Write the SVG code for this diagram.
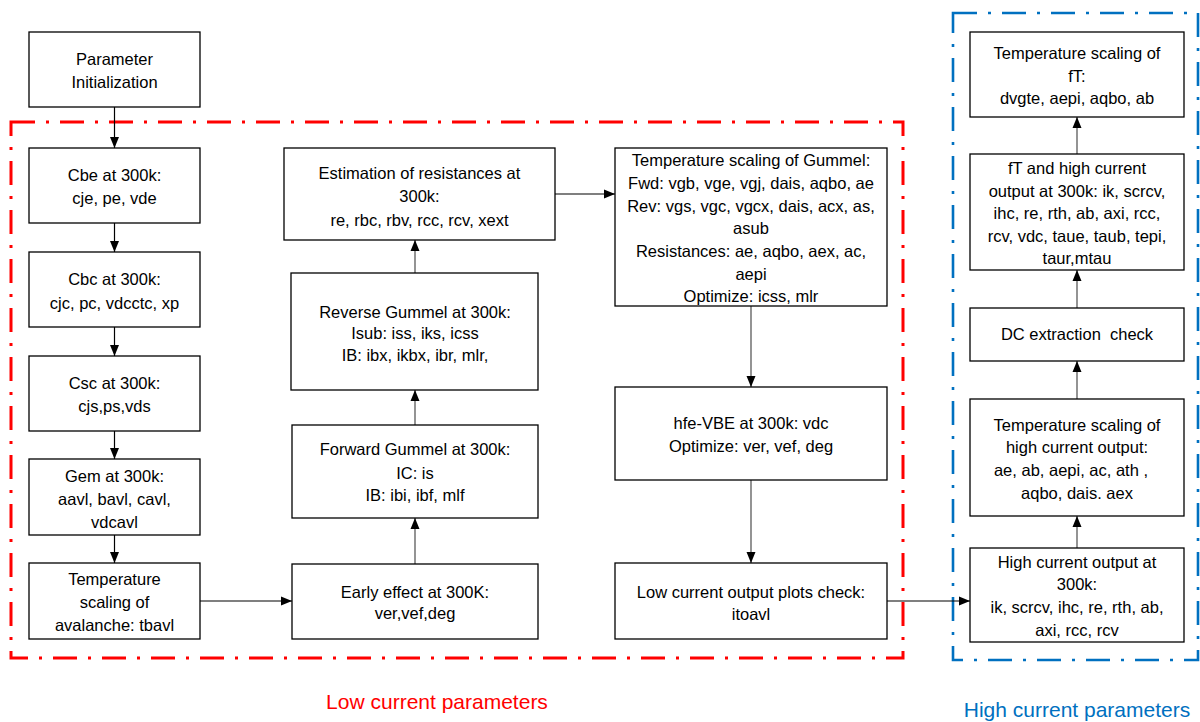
<svg xmlns="http://www.w3.org/2000/svg" width="1200" height="722" viewBox="0 0 1200 722">
<style>
.box{fill:#fff;stroke:#000;stroke-width:1.3}
.t{font-family:"Liberation Sans",Arial,sans-serif;font-size:16.5px;fill:#000;text-anchor:middle}
.c{fill:none;stroke:#000;stroke-width:1.2}
.g{fill:none;stroke:#666;stroke-width:1.4}
.lbl{font-family:"Liberation Sans",Arial,sans-serif;font-size:21px;text-anchor:middle}
</style>
<defs>
<marker id="ah" markerUnits="userSpaceOnUse" markerWidth="12" markerHeight="12" viewBox="0 0 12 12" refX="11" refY="6" orient="auto">
<path d="M0,1.5 L11,6 L0,10.5 Z" fill="#000"/>
</marker>
</defs>
<rect width="1200" height="722" fill="#fff"/>
<g id="groups">
<rect x="11" y="122" width="892" height="536" fill="none" stroke="#FF0000" stroke-width="3" stroke-dasharray="24 11 3 11"/>
<rect x="953" y="13" width="245" height="647" fill="none" stroke="#0070C0" stroke-width="2.6" stroke-dasharray="24 11 3 11"/>
<text class="lbl" x="437" y="709" fill="#FF0000">Low current parameters</text>
<text class="lbl" x="1077" y="717" fill="#0070C0">High current parameters</text>
</g>
<g id="connectors">
<line class="c" x1="114.5" y1="107" x2="114.5" y2="148" marker-end="url(#ah)"/>
<line class="c" x1="114.5" y1="223" x2="114.5" y2="252" marker-end="url(#ah)"/>
<line class="c" x1="114.5" y1="327" x2="114.5" y2="356" marker-end="url(#ah)"/>
<line class="c" x1="114.5" y1="431" x2="114.5" y2="459" marker-end="url(#ah)"/>
<line class="c" x1="114.5" y1="535" x2="114.5" y2="563" marker-end="url(#ah)"/>
<line class="c" x1="200" y1="601" x2="292" y2="601" marker-end="url(#ah)"/>
<line class="g" x1="415" y1="564" x2="415" y2="518" marker-end="url(#ah)"/>
<line class="g" x1="415" y1="425" x2="415" y2="390" marker-end="url(#ah)"/>
<line class="g" x1="415" y1="273" x2="415" y2="240" marker-end="url(#ah)"/>
<line class="c" x1="555" y1="194" x2="615" y2="194" marker-end="url(#ah)"/>
<line class="g" x1="751" y1="306" x2="751" y2="387" marker-end="url(#ah)"/>
<line class="g" x1="751" y1="480" x2="751" y2="563" marker-end="url(#ah)"/>
<line class="c" x1="887" y1="601" x2="970" y2="601" marker-end="url(#ah)"/>
<line class="g" x1="1077" y1="548" x2="1077" y2="516" marker-end="url(#ah)"/>
<line class="g" x1="1077" y1="399" x2="1077" y2="361" marker-end="url(#ah)"/>
<line class="g" x1="1077" y1="308" x2="1077" y2="270" marker-end="url(#ah)"/>
<line class="g" x1="1077" y1="154" x2="1077" y2="117" marker-end="url(#ah)"/>
</g>
<g id="param-init">
<rect class="box" x="29" y="32" width="171" height="75"/>
<text class="t" x="114.5" y="65">Parameter</text>
<text class="t" x="114.5" y="87.5">Initialization</text>
</g>
<g id="cbe">
<rect class="box" x="29" y="148" width="171" height="75"/>
<text class="t" x="114.5" y="181">Cbe at 300k:</text>
<text class="t" x="114.5" y="204">cje, pe, vde</text>
</g>
<g id="cbc">
<rect class="box" x="29" y="252" width="171" height="75"/>
<text class="t" x="114.5" y="285">Cbc at 300k:</text>
<text class="t" x="114.5" y="308.5">cjc, pc, vdcctc, xp</text>
</g>
<g id="csc">
<rect class="box" x="29" y="356" width="171" height="75"/>
<text class="t" x="114.5" y="389">Csc at 300k:</text>
<text class="t" x="114.5" y="411.5">cjs,ps,vds</text>
</g>
<g id="gem">
<rect class="box" x="29" y="459" width="171" height="76"/>
<text class="t" x="114.5" y="482">Gem at 300k:</text>
<text class="t" x="114.5" y="505">aavl, bavl, cavl,</text>
<text class="t" x="114.5" y="527.5">vdcavl</text>
</g>
<g id="temp-avalanche">
<rect class="box" x="29" y="563" width="171" height="76"/>
<text class="t" x="114.5" y="585">Temperature</text>
<text class="t" x="114.5" y="608">scaling of</text>
<text class="t" x="114.5" y="631">avalanche: tbavl</text>
</g>
<g id="early-effect">
<rect class="box" x="292" y="564" width="246" height="75"/>
<text class="t" x="415" y="597.5">Early effect at 300K:</text>
<text class="t" x="415" y="619">ver,vef,deg</text>
</g>
<g id="forward-gummel">
<rect class="box" x="292" y="425" width="246" height="93"/>
<text class="t" x="415" y="455">Forward Gummel at 300k:</text>
<text class="t" x="415" y="478.5">IC: is</text>
<text class="t" x="415" y="501">IB: ibi, ibf, mlf</text>
</g>
<g id="reverse-gummel">
<rect class="box" x="291" y="273" width="247" height="117"/>
<text class="t" x="415" y="317.5">Reverse Gummel at 300k:</text>
<text class="t" x="415" y="339">Isub: iss, iks, icss</text>
<text class="t" x="415" y="361">IB: ibx, ikbx, ibr, mlr,</text>
</g>
<g id="estimation-resistances">
<rect class="box" x="284" y="148" width="271" height="92"/>
<text class="t" x="419.5" y="178.5">Estimation of resistances at</text>
<text class="t" x="419.5" y="202">300k:</text>
<text class="t" x="419.5" y="226">re, rbc, rbv, rcc, rcv, xext</text>
</g>
<g id="temp-gummel">
<rect class="box" x="615" y="148" width="272" height="158"/>
<text class="t" x="751" y="166">Temperature scaling of Gummel:</text>
<text class="t" x="751" y="189">Fwd: vgb, vge, vgj, dais, aqbo, ae</text>
<text class="t" x="751" y="212">Rev: vgs, vgc, vgcx, dais, acx, as,</text>
<text class="t" x="751" y="234">asub</text>
<text class="t" x="751" y="256.5">Resistances: ae, aqbo, aex, ac,</text>
<text class="t" x="751" y="280">aepi</text>
<text class="t" x="751" y="302">Optimize: icss, mlr</text>
</g>
<g id="hfe-vbe">
<rect class="box" x="615" y="387" width="272" height="93"/>
<text class="t" x="751" y="428.5">hfe-VBE at 300k: vdc</text>
<text class="t" x="751" y="451.5">Optimize: ver, vef, deg</text>
</g>
<g id="low-current-check">
<rect class="box" x="615" y="563" width="272" height="76"/>
<text class="t" x="751" y="597.5">Low current output plots check:</text>
<text class="t" x="751" y="620">itoavl</text>
</g>
<g id="high-current-output">
<rect class="box" x="970" y="548" width="214" height="94"/>
<text class="t" x="1077" y="567.5">High current output at</text>
<text class="t" x="1077" y="590">300k:</text>
<text class="t" x="1077" y="613">ik, scrcv, ihc, re, rth, ab,</text>
<text class="t" x="1077" y="636">axi, rcc, rcv</text>
</g>
<g id="temp-high-current">
<rect class="box" x="970" y="399" width="214" height="117"/>
<text class="t" x="1077" y="431">Temperature scaling of</text>
<text class="t" x="1077" y="453">high current output:</text>
<text class="t" x="1071" y="476">ae, ab, aepi, ac, ath ,</text>
<text class="t" x="1077" y="499">aqbo, dais. aex</text>
</g>
<g id="dc-check">
<rect class="box" x="970" y="308" width="214" height="53"/>
<text class="t" x="1077" y="340" style="white-space:pre">DC extraction  check</text>
</g>
<g id="ft-high-current">
<rect class="box" x="970" y="154" width="214" height="116"/>
<text class="t" x="1077" y="174">fT and high current</text>
<text class="t" x="1077" y="196.5">output at 300k: ik, scrcv,</text>
<text class="t" x="1077" y="219">ihc, re, rth, ab, axi, rcc,</text>
<text class="t" x="1077" y="242">rcv, vdc, taue, taub, tepi,</text>
<text class="t" x="1077" y="264">taur,mtau</text>
</g>
<g id="temp-ft">
<rect class="box" x="970" y="32" width="214" height="85"/>
<text class="t" x="1077" y="59">Temperature scaling of</text>
<text class="t" x="1077" y="82">fT:</text>
<text class="t" x="1077" y="104">dvgte, aepi, aqbo, ab</text>
</g>
</svg>
